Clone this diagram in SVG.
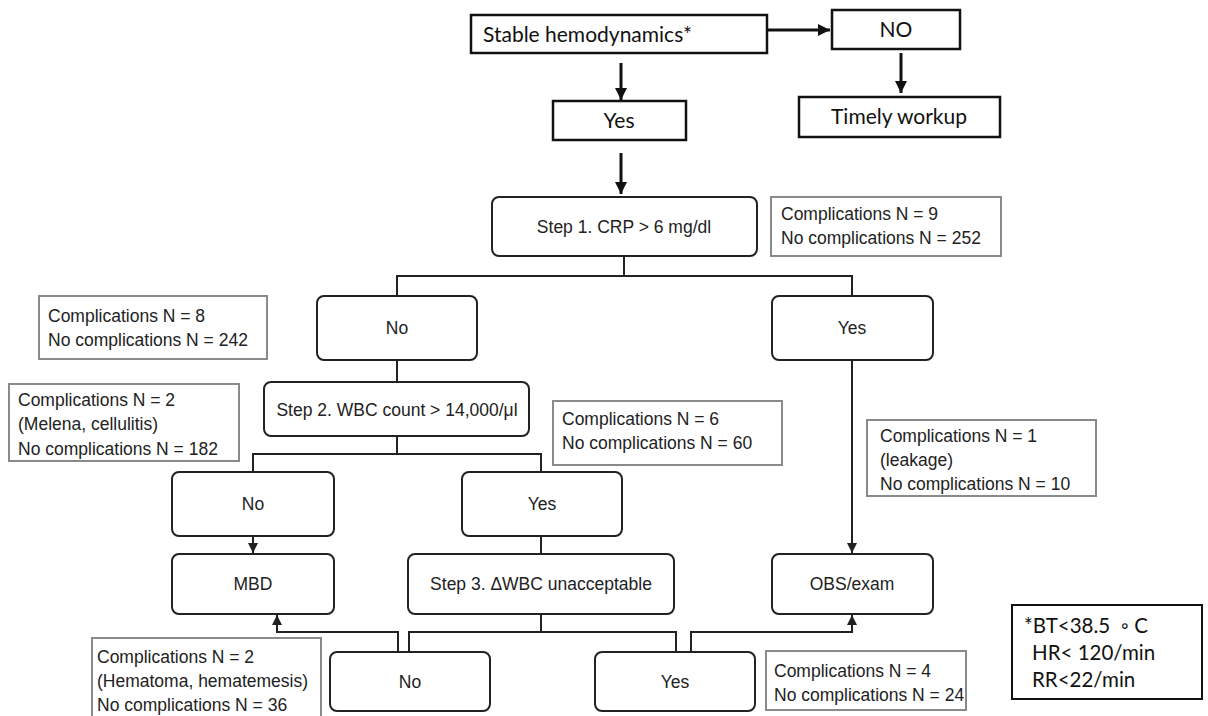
<svg xmlns="http://www.w3.org/2000/svg" width="1208" height="716" viewBox="0 0 1208 716">
<defs>
<marker id="ah" viewBox="0 0 10 10" refX="10" refY="5" markerWidth="4" markerHeight="4" orient="auto" markerUnits="strokeWidth"><path d="M0,0 L10,5 L0,10 z" fill="#111"/></marker>
<marker id="as" viewBox="0 0 10 10" refX="10" refY="5" markerWidth="5" markerHeight="5" orient="auto" markerUnits="strokeWidth"><path d="M0,0 L10,5 L0,10 z" fill="#222"/></marker>
<style>
.top{fill:#fff;stroke:#111;stroke-width:2.5}
.rn{fill:#fff;stroke:#222;stroke-width:2}
.st{fill:#fff;stroke:#8a8a8a;stroke-width:2}
.lg{fill:#fff;stroke:#111;stroke-width:2}
.c{font-family:Lato,"Open Sans",sans-serif;font-size:21px;fill:#111}
.cl{font-family:Lato,"Open Sans",sans-serif;font-size:20.5px;fill:#111}
.a{font-family:"Liberation Sans",Arial,sans-serif;font-size:17.5px;fill:#222}
.m{text-anchor:middle}
.thick{fill:none;stroke:#111;stroke-width:3}
.thin{fill:none;stroke:#222;stroke-width:2}
</style>
</defs>
<rect width="1208" height="716" fill="#fff"/>
<g id="connectors">
<path class="thick" d="M767,30 H830" marker-end="url(#ah)"/>
<path class="thick" d="M621,63 V100" marker-end="url(#ah)"/>
<path class="thick" d="M901,53 V93" marker-end="url(#ah)"/>
<path class="thick" d="M621,153 V194" marker-end="url(#ah)"/>
<path class="thin" d="M624,256 V276 M397,296 V276 H852 V296"/>
<path class="thin" d="M397,360 V382"/>
<path class="thin" d="M852,360 V553" marker-end="url(#as)"/>
<path class="thin" d="M397,436 V454 M253,472 V454 H541 V472"/>
<path class="thin" d="M253,536 V553" marker-end="url(#as)"/>
<path class="thin" d="M541,536 V554"/>
<path class="thin" d="M541,614 V632 H409 V652 M541,632 H676 V652"/>
<path class="thin" d="M398,652 V632 H277 V615" marker-end="url(#as)"/>
<path class="thin" d="M691,652 V632 H852 V615" marker-end="url(#as)"/>
</g>
<g id="stable"><rect class="top" x="471" y="15" width="296" height="38"/><text class="c" x="483" y="42">Stable hemodynamics*</text></g>
<g id="no-top"><rect class="top" x="832" y="10" width="128" height="39"/><text class="c m" x="896" y="37">NO</text></g>
<g id="timely"><rect class="top" x="799" y="97" width="201" height="40"/><text class="c m" x="899" y="124">Timely workup</text></g>
<g id="yes-top"><rect class="top" x="553" y="101" width="133" height="39"/><text class="c m" x="619" y="128">Yes</text></g>
<g id="step1"><rect class="rn" x="492" y="197" width="265" height="59" rx="7"/><text class="a m" x="624" y="233">Step 1. CRP &gt; 6 mg/dl</text></g>
<g id="stat1"><rect class="st" x="771" y="197" width="230" height="59"/><text class="a" x="781" y="220">Complications N = 9</text><text class="a" x="781" y="244">No complications N = 252</text></g>
<g id="no1"><rect class="rn" x="317" y="296" width="160" height="64" rx="7"/><text class="a m" x="397" y="334">No</text></g>
<g id="yes1"><rect class="rn" x="772" y="296" width="161" height="64" rx="7"/><text class="a m" x="852" y="334">Yes</text></g>
<g id="stat-no1"><rect class="st" x="39" y="296" width="228" height="63"/><text class="a" x="48" y="322">Complications N = 8</text><text class="a" x="48" y="346">No complications N = 242</text></g>
<g id="step2"><rect class="rn" x="264" y="382" width="265" height="54" rx="7"/><text class="a m" x="397" y="416">Step 2. WBC count &gt; 14,000/μl</text></g>
<g id="stat-step2no"><rect class="st" x="9" y="384" width="230" height="77"/><text class="a" x="18" y="406">Complications N = 2</text><text class="a" x="18" y="430">(Melena, cellulitis)</text><text class="a" x="18" y="455">No complications N = 182</text></g>
<g id="stat-step2yes"><rect class="st" x="553" y="401" width="229" height="64"/><text class="a" x="562" y="425">Complications N = 6</text><text class="a" x="562" y="449">No complications N = 60</text></g>
<g id="stat-yes1"><rect class="st" x="867" y="420" width="229" height="76"/><text class="a" x="880" y="442">Complications N = 1</text><text class="a" x="880" y="466">(leakage)</text><text class="a" x="880" y="490">No complications N = 10</text></g>
<g id="no2"><rect class="rn" x="172" y="472" width="162" height="64" rx="7"/><text class="a m" x="253" y="510">No</text></g>
<g id="yes2"><rect class="rn" x="462" y="472" width="160" height="64" rx="7"/><text class="a m" x="542" y="510">Yes</text></g>
<g id="mbd"><rect class="rn" x="172" y="554" width="162" height="60" rx="7"/><text class="a m" x="253" y="590">MBD</text></g>
<g id="step3"><rect class="rn" x="408" y="554" width="266" height="60" rx="7"/><text class="a m" x="541" y="590">Step 3. ΔWBC unacceptable</text></g>
<g id="obs"><rect class="rn" x="772" y="554" width="161" height="60" rx="7"/><text class="a m" x="852" y="590">OBS/exam</text></g>
<g id="stat-step3no"><rect class="st" x="92" y="638" width="229" height="86"/><text class="a" x="97" y="663">Complications N = 2</text><text class="a" x="97" y="687">(Hematoma, hematemesis)</text><text class="a" x="97" y="711">No complications N = 36</text></g>
<g id="no3"><rect class="rn" x="330" y="652" width="160" height="59" rx="7"/><text class="a m" x="410" y="688">No</text></g>
<g id="yes3"><rect class="rn" x="595" y="652" width="160" height="59" rx="7"/><text class="a m" x="675" y="688">Yes</text></g>
<g id="stat-step3yes"><rect class="st" x="766" y="651" width="200" height="59"/><text class="a" x="774" y="677">Complications N = 4</text><text class="a" x="774" y="701">No complications N = 24</text></g>
<g id="legend"><rect class="lg" x="1012" y="605" width="190" height="94"/><text class="cl" x="1024" y="633" xml:space="preserve">*BT&lt;38.5  ◦ C</text><text class="cl" x="1032" y="660">HR&lt; 120/min</text><text class="cl" x="1032" y="687">RR&lt;22/min</text></g>
</svg>
